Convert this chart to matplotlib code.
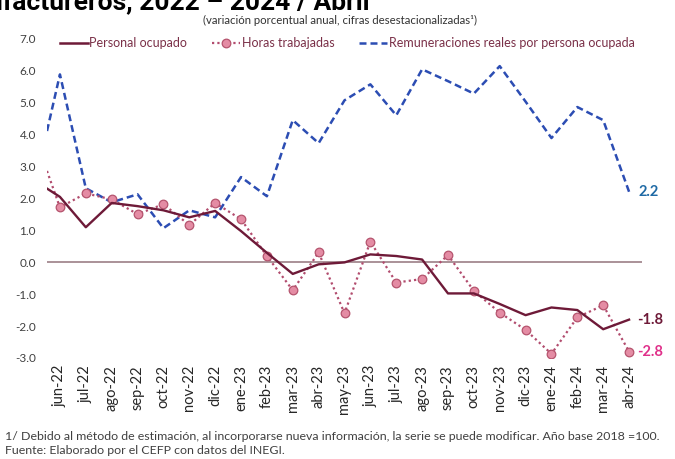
import numpy as np
import matplotlib
matplotlib.use("Agg")
import matplotlib.pyplot as plt
from matplotlib.lines import Line2D

months = ["jun-22", "jul-22", "ago-22", "sep-22", "oct-22", "nov-22", "dic-22",
          "ene-23", "feb-23", "mar-23", "abr-23", "may-23", "jun-23", "jul-23",
          "ago-23", "sep-23", "oct-23", "nov-23", "dic-23", "ene-24", "feb-24",
          "mar-24", "abr-24"]

# values at the left edge of the plot (segment coming from the previous month)
personal_edge = 2.3
horas_edge = 2.85
remun_edge = 4.1

personal = [2.04, 1.09, 1.85, 1.75, 1.62, 1.40, 1.60, 0.97, 0.29, -0.37, -0.07,
            -0.01, 0.24, 0.19, 0.08, -0.98, -0.98, -1.31, -1.66, -1.42, -1.50,
            -2.10, -1.8]
horas = [1.71, 2.15, 1.96, 1.50, 1.81, 1.16, 1.85, 1.34, 0.19, -0.88, 0.30,
         -1.60, 0.64, -0.64, -0.53, 0.22, -0.90, -1.58, -2.12, -2.87, -1.73,
         -1.35, -2.8]
remun = [5.87, 2.31, 1.87, 2.12, 1.06, 1.62, 1.40, 2.66, 2.06, 4.44, 3.72,
         5.06, 5.56, 4.59, 6.03, 5.66, 5.27, 6.13, 5.02, 3.88, 4.85, 4.44, 2.2]

yticks = [7.0, 6.0, 5.0, 4.0, 3.0, 2.0, 1.0, 0.0, -1.0, -2.0, -3.0]

C_PER = "#6E1A38"
C_HOR_LINE = "#B24C6E"
C_HOR_FILL = "#E48CA4"
C_HOR_EDGE = "#B5546E"
C_REM = "#2C4DB3"

FONT = ["Lato", "DejaVu Sans"]
plt.rcParams["font.family"] = FONT

fig = plt.figure(figsize=(6.75, 4.59), dpi=100)
ax = fig.add_axes([47 / 675, 1 - 358 / 459, 595 / 675, (358 - 38.3) / 459])

x = np.arange(len(months))
xe = np.r_[-0.5, x]

ax.axhline(0, color="#9C7F86", lw=1.2, zorder=1)

ax.plot(xe, [remun_edge] + remun, color=C_REM, lw=1.8, dashes=(2.8, 1.6), zorder=2)
ax.plot(xe, [horas_edge] + horas, color=C_HOR_LINE, lw=1.6, dashes=(1.0, 1.4), zorder=3)
ax.plot(x, horas, linestyle="none", marker="o", ms=6.2, mfc=C_HOR_FILL,
        mec=C_HOR_EDGE, mew=0.9, zorder=4)
ax.plot(xe, [personal_edge] + personal, color=C_PER, lw=1.7, zorder=5)

ax.text(x[-1] + 0.35, remun[-1], f"{remun[-1]:.1f}", color="#1F6AA5",
        fontsize=10.5, fontweight="bold", va="center", ha="left")
ax.text(x[-1] + 0.3, personal[-1], f"{personal[-1]:.1f}", color=C_PER,
        fontsize=10.5, fontweight="bold", va="center", ha="left")
ax.text(x[-1] + 0.3, horas[-1], f"{horas[-1]:.1f}", color="#E0308A",
        fontsize=10.5, fontweight="bold", va="center", ha="left")

ax.set_xlim(-0.5, len(months) - 0.5)
ax.set_ylim(-3, 7)
ax.set_yticks(yticks)
ax.set_yticklabels([f"{v:.1f}" for v in yticks], fontsize=8.5, color="#404040")
ax.set_xticks(x)
ax.set_xticklabels(months, rotation=90, fontsize=10.5, color="#262626")
ax.tick_params(axis="both", length=0)
ax.tick_params(axis="y", pad=8)
ax.tick_params(axis="x", pad=5)
for s in ax.spines.values():
    s.set_visible(False)

handles = [
    Line2D([], [], color=C_PER, lw=1.8),
    Line2D([], [], color=C_HOR_LINE, lw=1.6, dashes=(1.0, 1.4), marker="o",
           ms=6.2, mfc=C_HOR_FILL, mec=C_HOR_EDGE, mew=0.9),
    Line2D([], [], color=C_REM, lw=1.8, dashes=(2.8, 1.6)),
]
labels = ["Personal ocupado", "Horas trabajadas",
          "Remuneraciones reales por persona ocupada"]
fig.legend(handles, labels, loc="center left", bbox_to_anchor=(60 / 675, 1 - 43 / 459),
           ncol=3, frameon=False, fontsize=9, handlelength=2.2, handletextpad=0.15,
           columnspacing=2.0, borderpad=0, borderaxespad=0, labelcolor="#7A3048")

fig.text(370 / 675, 1 - 9.5 / 459, "Manufactureros, 2022 – 2024 / Abril",
         ha="right", va="baseline", fontsize=19, fontweight="bold",
         family=["Roboto", "DejaVu Sans"], color="black")
fig.text(340 / 675, 1 - 20 / 459,
         "(variación porcentual anual, cifras desestacionalizadas¹)",
         ha="center", va="center", fontsize=8.2, color="#333333")

fig.text(5 / 675, 1 - 437 / 459,
         "1/ Debido al método de estimación, al incorporarse nueva información, la serie se puede modificar. Año base 2018 =100.",
         ha="left", va="center", fontsize=8.9, color="#404040")
fig.text(5 / 675, 1 - 451 / 459,
         "Fuente: Elaborado por el CEFP con datos del INEGI.",
         ha="left", va="center", fontsize=8.9, color="#404040")

fig.savefig("out.png", dpi=100, facecolor="white")
